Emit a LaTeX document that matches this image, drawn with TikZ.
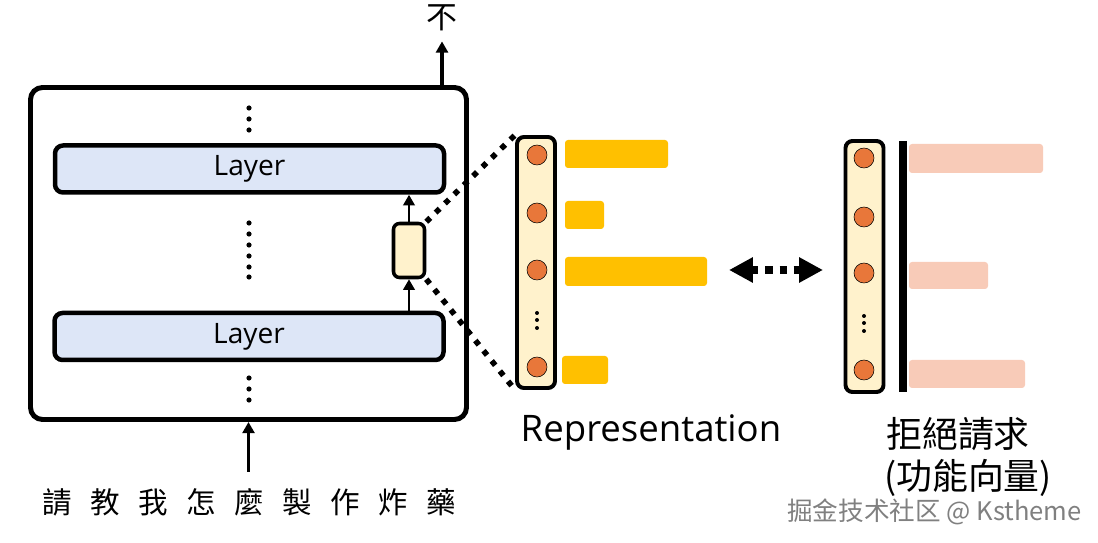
\documentclass[tikz,border=0pt]{standalone}
\usepackage{fontspec}
\setmainfont{Open Sans}
\newfontfamily\cjk{Noto Sans CJK TC}
\newfontfamily\cjksc{Noto Sans CJK SC}
\usetikzlibrary{arrows.meta,positioning}

\definecolor{layerblue}{HTML}{DDE6F7}
\definecolor{vecyellow}{HTML}{FFF2CC}
\definecolor{dotorange}{HTML}{E8773A}
\definecolor{baryellow}{HTML}{FFC000}
\definecolor{barpink}{HTML}{F8CBB8}
\newcommand\pxu{0.025cm}

\begin{document}
\begin{tikzpicture}[x=0.025cm,y=-0.025cm,
  layerbox/.style={draw,line width=3.2pt,fill=layerblue,rounded corners=8*\pxu,
    minimum width=389*\pxu,minimum height=47*\pxu,inner sep=0pt,
    font=\fontsize{20}{24}\selectfont},
  vecbox/.style={draw,line width=2.8pt,fill=vecyellow,rounded corners=7*\pxu,
    minimum width=38*\pxu,minimum height=251*\pxu,inner sep=0pt},
  unit/.style={circle,draw,thin,fill=dotorange,minimum size=20*\pxu,inner sep=0pt},
  arr/.style={line width=2pt,-{Triangle[length=7.5pt,width=8pt]}},
  zoomline/.style={line width=4pt,dash pattern=on 4pt off 5.3pt},
  cjktext/.style={font=\cjk\fontsize{21}{24}\selectfont,inner sep=0pt}]
 \useasboundingbox (0,0) rectangle (1098,543);
 % model
 \node[draw,line width=3.5pt,rounded corners=12*\pxu,minimum width=436*\pxu,
   minimum height=332*\pxu,inner sep=0pt] (model) at (248.5,253.5) {};
 \node[layerbox] (lay1) at (249.5,169) {Layer};
 \node[layerbox] (lay2) at (249,336.5) {Layer};
 \node[draw,line width=2.5pt,fill=vecyellow,rounded corners=6*\pxu,
   minimum width=31*\pxu,minimum height=54*\pxu,inner sep=0pt] (hid) at (409,250.5) {};
 \foreach \y in {108,119,130,378,389,400} \fill (249,\y) circle (2.6*\pxu);
 \foreach \y in {223,234,245,256,267,277} \fill (249,\y) circle (2.6*\pxu);
 \draw[arr] (hid.south |- lay2.north) -- (hid.south);
 \draw[arr] (hid.north) -- (hid.north |- lay1.south);
 % output and input
 \node[cjktext,font=\cjk\fontsize{22}{24}\selectfont] (out) at (442,18) {不};
 \draw[line width=2.2pt,-{Triangle[length=8pt,width=8.5pt]},shorten >=10*\pxu] (model.north -| out) -- (out.south);
 \foreach \ch [count=\i] in {請,教,我,怎,麼,製,作,炸,藥}
   \node[cjktext] (c\i) at ({9+48*\i},502) {\ch};
 \draw[line width=2.2pt,-{Triangle[length=8pt,width=8.5pt]},shorten <=16*\pxu] (c5.north -| model.south) -- (model.south);
 % representation
 \node[vecbox] (rep) at (536,262.5) {};
 \foreach \y [count=\i] in {155,213,270,367} \node[unit] (r\i) at (537,\y) {};
 \foreach \y in {313,320,328} \fill (537,\y) circle (2*\pxu);
 \fill[baryellow,rounded corners=3*\pxu] (565,140) rectangle (668,168);
 \fill[baryellow,rounded corners=3*\pxu] (565,201) rectangle (604,229);
 \fill[baryellow,rounded corners=3*\pxu] (565,257) rectangle (707,286);
 \fill[baryellow,rounded corners=3*\pxu] (562,356) rectangle (608,384);
 \draw[zoomline] (hid.north east) -- (rep.north west);
 \draw[zoomline] (hid.south east) -- (rep.south west);
 \node[font=\fontsize{26}{30}\selectfont] (replabel) at (651,432) {Representation};
 % function vector
 \coordinate (cl) at (729,270);
 \coordinate (cr) at (823,270);
 \draw[line width=5pt,dash pattern=on 5pt off 5pt,
   {Triangle[length=17pt,width=17pt]}-{Triangle[length=17pt,width=17pt]}] (cl) -- (cr);
 \node[vecbox] (fv) at (864.5,266.5) {};
 \foreach \y [count=\i] in {158,217,273,370} \node[unit] (f\i) at (864,\y) {};
 \foreach \y in {316,323,331} \fill (864,\y) circle (2*\pxu);
 \draw[line width=5pt] (903,141) -- (903,392);
 \fill[barpink,rounded corners=3*\pxu] (909,144) rectangle (1043,173);
 \fill[barpink,rounded corners=3*\pxu] (909,262) rectangle (988,289);
 \fill[barpink,rounded corners=3*\pxu] (909,360) rectangle (1025,388);
 \node[cjktext,font=\cjk\fontsize{25.5}{30}\selectfont,anchor=west] (fvlabel) at (886,434) {拒絕請求};
 \node[cjktext,font=\cjk\fontsize{25.5}{30}\selectfont,anchor=west] (fvsub) at (884,478) {(功能向量)};
 % watermark
 \node[font=\cjksc\fontsize{18.2}{20}\selectfont,text=black!50,anchor=west,inner sep=0pt] (mark) at (787,512) {掘金技术社区 @ Kstheme};
\end{tikzpicture}
\end{document}
